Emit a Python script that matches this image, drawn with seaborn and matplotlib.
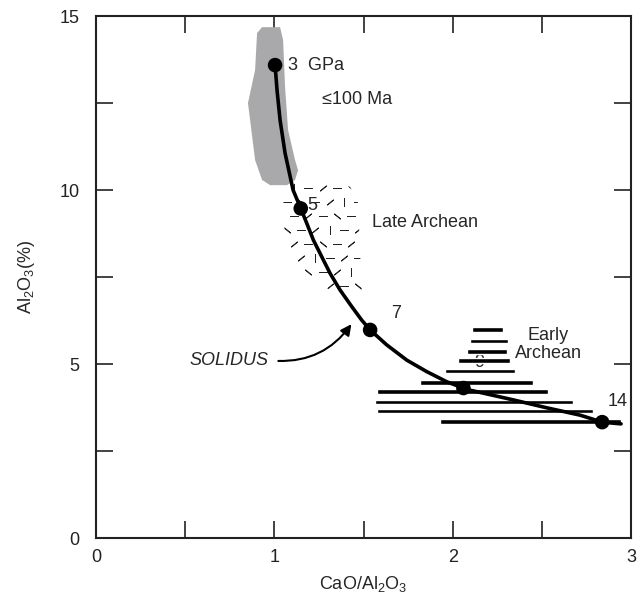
import numpy as np
import matplotlib
matplotlib.use("Agg")
import matplotlib.pyplot as plt
from matplotlib.patches import Polygon
import seaborn as sns

# solidus curve (CaO/Al2O3, Al2O3 %)
solidus_x = [1.004, 1.015, 1.032, 1.060, 1.105, 1.148, 1.182, 1.219, 1.266, 1.312,
             1.368, 1.434, 1.490, 1.537, 1.630, 1.743, 1.855, 1.967, 2.079, 2.339,
             2.529, 2.715, 2.838, 2.944]
solidus_y = [13.59, 12.87, 12.01, 11.06, 10.00, 9.47, 9.04, 8.56, 8.08, 7.61,
             7.13, 6.65, 6.26, 5.98, 5.55, 5.11, 4.78, 4.49, 4.27, 3.97,
             3.74, 3.53, 3.33, 3.28]

# pressure points on the solidus (GPa)
pressure = ["3", "5", "7", "9", "14"]
p_x = [1.004, 1.148, 1.537, 2.060, 2.838]
p_y = [13.59, 9.47, 5.98, 4.31, 3.33]

# <=100 Ma field outline
young_x = [0.931, 1.032, 1.049, 1.060, 1.077, 1.116, 1.133, 1.116, 1.071, 0.976,
           0.931, 0.892, 0.864, 0.852, 0.892, 0.903]
young_y = [14.68, 14.68, 14.31, 12.96, 11.72, 10.86, 10.57, 10.29, 10.14, 10.14,
           10.29, 10.86, 12.01, 12.50, 13.45, 14.51]

# Late Archean field outline
late_x = [1.088, 1.256, 1.425, 1.469, 1.481, 1.492, 1.397, 1.296, 1.161, 1.077, 1.043, 1.060]
late_y = [10.23, 10.29, 10.09, 9.63, 8.19, 6.84, 6.84, 7.18, 7.70, 8.19, 9.34, 10.00]

# Early Archean field: horizontal stripes (y, left, right)
early_y = [5.98, 5.66, 5.37, 5.09, 4.80, 4.48, 4.22, 3.91, 3.65, 3.36]
early_left = [2.109, 2.098, 2.081, 2.030, 1.957, 1.817, 1.576, 1.565, 1.576, 1.929]
early_right = [2.283, 2.311, 2.305, 2.322, 2.350, 2.451, 2.535, 2.675, 2.787, 2.944]

sns.set_style("ticks")
plt.rcParams["font.family"] = ["Liberation Sans", "DejaVu Sans"]
plt.rcParams["mathtext.default"] = "regular"

fig = plt.figure(figsize=(6.38, 5.98), dpi=100)
ax = fig.add_axes([0.1505, 0.1003, 0.8386, 0.8729])

# <=100 Ma grey field
ax.fill(young_x, young_y, color="#a9a9ac", lw=0, zorder=1)

# Late Archean: dash texture clipped to the outline
late_poly = Polygon(np.column_stack([late_x, late_y]), closed=True,
                    facecolor="none", edgecolor="none")
ax.add_patch(late_poly)
gx, gy = np.meshgrid(np.arange(1.03, 1.52, 0.08), np.arange(6.85, 10.4, 0.40))
gx = gx + (np.arange(gx.shape[0]) % 2)[:, None] * 0.04
angles = [90, 50, 90, 130, 0, 90, 130]
idx = np.arange(gx.size) + 3 * (np.arange(gx.size) // gx.shape[1])
for k, ang in enumerate(angles):
    sel = (idx % len(angles)) == k
    sc = ax.scatter(gx.ravel()[sel], gy.ravel()[sel], marker=(2, 2, ang), s=30,
                    color="#222222", linewidths=0.7, zorder=1)
    sc.set_clip_path(late_poly)

# Early Archean stripes
ax.text(2.15, 5.03, "9", fontsize=13, ha="center", va="center", zorder=1)
ax.barh(early_y, np.array(early_right) - np.array(early_left), left=early_left,
        height=0.14, color="black", zorder=2)

# solidus curve and pressure points
sns.lineplot(x=solidus_x, y=solidus_y, sort=False, color="black", lw=2.6,
             ax=ax, zorder=3)
sns.scatterplot(x=p_x, y=p_y, color="black", s=110, edgecolor="none", ax=ax, zorder=4)

offsets = {"3": (9, 0), "5": (5, 2), "7": (15, 12), "14": (4, 15)}
for lab, x, y in zip(pressure, p_x, p_y):
    if lab not in offsets:
        continue
    txt = "3  GPa" if lab == "3" else lab
    ax.annotate(txt, (x, y), xytext=offsets[lab], textcoords="offset points",
                fontsize=13, ha="left", va="center", zorder=5)

ax.text(1.268, 12.59, "\u2264100 Ma", fontsize=13, ha="left", va="center")
ax.text(1.548, 9.08, "Late Archean", fontsize=13, ha="left", va="center")
ax.text(2.535, 5.56, "Early\nArchean", fontsize=13, ha="center", va="center",
        linespacing=1.1, zorder=5)

ax.annotate("SOLIDUS", xy=(1.441, 6.21), xytext=(0.965, 5.11), fontsize=13,
            style="italic", ha="right", va="center",
            arrowprops=dict(arrowstyle="-|>", color="black", lw=1.5,
                            mutation_scale=16, shrinkA=5, shrinkB=2,
                            relpos=(1, 0.5),
                            connectionstyle="arc3,rad=0.3"))

ax.set_xlim(0, 3)
ax.set_ylim(0, 15)
ax.set_xticks(np.arange(0, 3.01, 0.5))
ax.set_xticklabels(["0", "", "1", "", "2", "", "3"])
ax.set_yticks(np.arange(0, 15.01, 2.5))
ax.set_yticklabels(["0", "", "5", "", "10", "", "15"])
ax.tick_params(direction="in", length=12, width=1.2, labelsize=13,
               top=True, right=True, pad=8, colors="#222222")
ax.tick_params(axis="y", pad=12)
for s in ax.spines.values():
    s.set_linewidth(1.5)
    s.set_color("#222222")
    s.set_visible(True)

ax.set_xlabel("CaO/Al$_2$O$_3$", fontsize=13, labelpad=6)
ax.set_ylabel("Al$_2$O$_3$(%)", fontsize=13, labelpad=16)

fig.savefig("out.png", dpi=100)
